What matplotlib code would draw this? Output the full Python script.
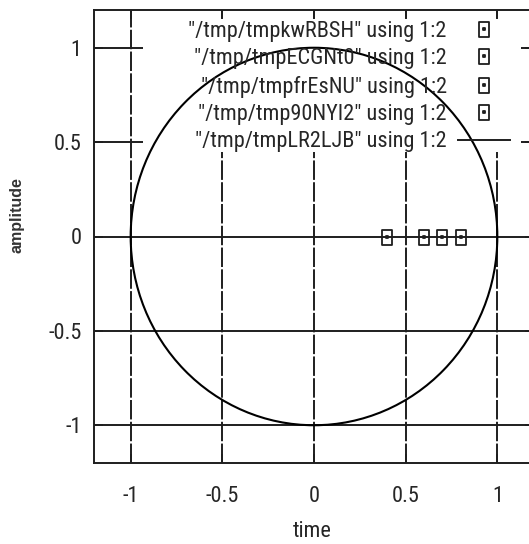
import matplotlib
matplotlib.use("Agg")
import matplotlib.pyplot as plt
from matplotlib import font_manager
from matplotlib.lines import Line2D
from matplotlib.patches import Circle, Rectangle
from matplotlib.path import Path

# data
point_files = ["/tmp/tmpkwRBSH", "/tmp/tmpECGNt0", "/tmp/tmpfrEsNU", "/tmp/tmp90NYI2"]
point_x = [0.4, 0.6, 0.7, 0.8]
point_y = [0.0, 0.0, 0.0, 0.0]
circle_file = "/tmp/tmpLR2LJB"
circle_center = (0.0, 0.0)
circle_radius = 1.0
tick_values = [-1, -0.5, 0, 0.5, 1]
tick_labels = ["-1", "-0.5", "0", "0.5", "1"]


def pick_narrow_font():
    # gnuplot text is squeezed, so look for any narrow/condensed face
    names = {f.name for f in font_manager.fontManager.ttflist}
    for want in ["Liberation Sans Narrow", "Arial Narrow", "Roboto Condensed",
                 "Open Sans Condensed", "DejaVu Sans Condensed", "Noto Sans Condensed"]:
        if want in names:
            return want, "normal"
    for f in font_manager.fontManager.ttflist:
        if "condensed" in str(f.stretch) and f.style == "normal" and f.weight in (400, "normal"):
            return f.name, f.stretch
    return None, None


FONT, STRETCH = pick_narrow_font()
if FONT is None:
    FONT, STRETCH, FS = "Liberation Sans", "normal", 13.5
else:
    FS = 16
plt.rcParams["font.family"] = [FONT, "DejaVu Sans"]
plt.rcParams["font.stretch"] = STRETCH
plt.rcParams["axes.unicode_minus"] = False

INK = "#1e1e1e"
TXT = "#262626"
LW = 1.4

# box with a dot in the middle, a bit taller than wide
box = Path([(-0.73, -1), (0.73, -1), (0.73, 1), (-0.73, 1), (-0.73, -1)],
           [Path.MOVETO, Path.LINETO, Path.LINETO, Path.LINETO, Path.CLOSEPOLY])
dot = Path([(-0.07, -0.07), (0.07, -0.07), (0.07, 0.07), (-0.07, 0.07), (-0.07, -0.07)],
           [Path.MOVETO, Path.LINETO, Path.LINETO, Path.LINETO, Path.CLOSEPOLY])
box_marker = Path.make_compound_path(box, dot)

fig = plt.figure(figsize=(5.29, 5.44), dpi=100)
ax = fig.add_axes([94 / 529, 81 / 544, 440 / 529, 453 / 544])
ax.set_xlim(-1.2, 1.2)
ax.set_ylim(-1.2, 1.2)

# grid: solid across, dashed up and down
for v in tick_values:
    ax.axhline(v, color=INK, lw=LW, zorder=1.1)
    ax.axvline(v, color=INK, lw=LW, dashes=(10, 1.2), zorder=1.1)

# key area hides the grid
ax.add_patch(Rectangle((0.111, 0.687), 0.859, 0.295, transform=ax.transAxes,
                       facecolor="white", edgecolor="none", zorder=1.8))

handles = []
for name, x, y in zip(point_files, point_x, point_y):
    h, = ax.plot([x], [y], linestyle="none", marker=box_marker, markersize=10.8,
                 markerfacecolor="none", markeredgecolor=INK, markeredgewidth=1.3,
                 zorder=4, label=f'"{name}" using 1:2')
    handles.append(h)

ax.add_patch(Circle(circle_center, circle_radius, fill=False, edgecolor="black",
                    lw=1.5, zorder=3))
handles.append(Line2D([], [], color=INK, lw=LW, label=f'"{circle_file}" using 1:2'))

fs_px = FS * 100 / 72
leg = ax.legend(handles=handles, loc="upper right", bbox_to_anchor=(0.945, 0.976),
                markerfirst=False, frameon=False, fontsize=FS, borderpad=0,
                borderaxespad=0, handlelength=52 / fs_px, handletextpad=11 / fs_px,
                labelspacing=(26.6 - 0.91 * fs_px) / fs_px, numpoints=1)
for t in leg.get_texts():
    t.set_color(TXT)
leg.set_zorder(5)

ax.set_xticks(tick_values, tick_labels)
ax.set_yticks(tick_values, tick_labels)
ax.tick_params(direction="in", length=6.5, width=LW, color=INK, top=True, right=True,
               labelsize=FS, labelcolor=TXT)
ax.tick_params(axis="x", pad=28)
ax.tick_params(axis="y", pad=9)
for t in ax.xaxis.get_major_ticks():
    t.label1.set_verticalalignment("baseline")
ax.set_axisbelow(False)
for s in ax.spines.values():
    s.set_linewidth(LW)
    s.set_color(INK)
    s.set_zorder(6)

ax.set_xlabel("time", fontsize=FS, color=TXT, va="baseline")
ax.xaxis.set_label_coords(0.495, -0.164)
ax.set_ylabel("amplitude", fontsize=11.5, fontweight="bold", color="#333333",
              family=["Liberation Sans", "DejaVu Sans"], stretch="normal")
ax.yaxis.set_label_coords(-0.157, 0.547)

fig.savefig("out.png", dpi=100)
